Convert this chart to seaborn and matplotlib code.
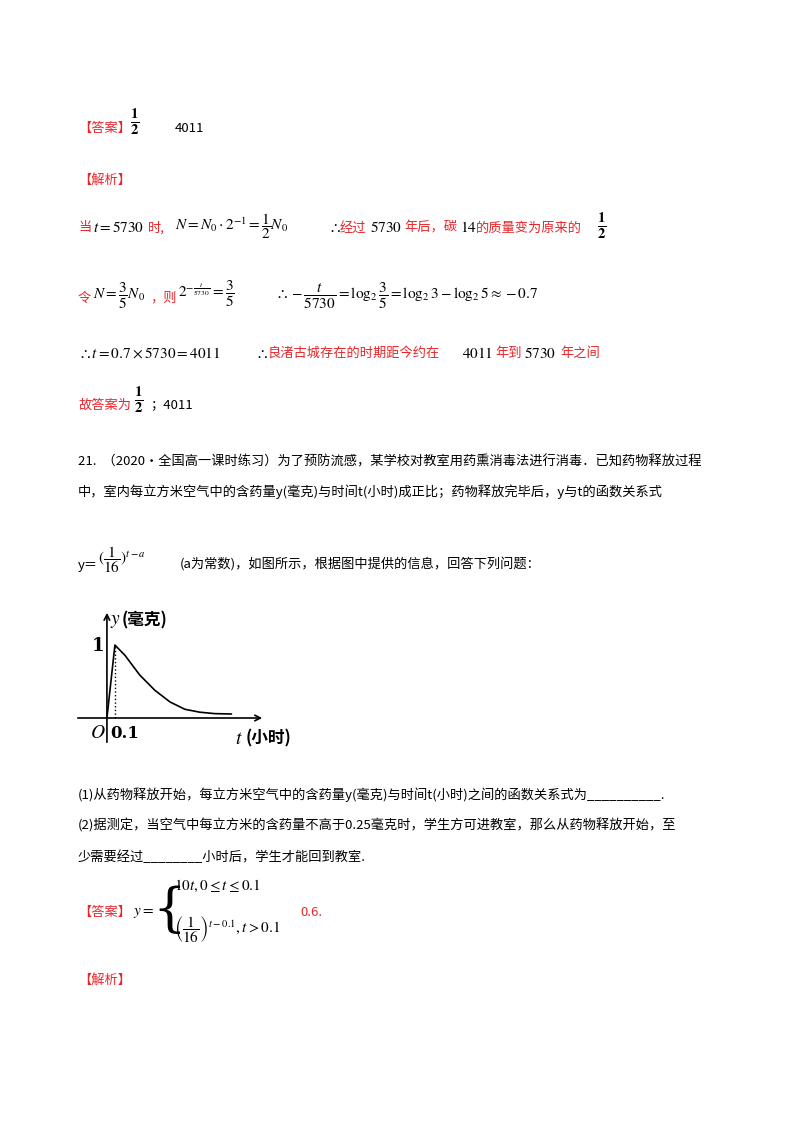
import matplotlib
matplotlib.use("Agg")
import matplotlib.pyplot as plt
import seaborn as sns
import pandas as pd

sns.set_style("white")
plt.rcParams['font.family'] = ['Noto Sans CJK SC', 'DejaVu Sans']
plt.rcParams['mathtext.fontset'] = 'stix'

# curve data (t in hours, y in mg)
t_vals = [0.0, 0.1, 0.225, 0.41, 0.6, 0.79, 0.975, 1.16, 1.35, 1.56]
y_vals = [0.0, 1.0, 0.86, 0.59, 0.38, 0.22, 0.12, 0.08, 0.06, 0.055]
df = pd.DataFrame({"t": t_vals, "y": y_vals})

W, H = 800, 1132
fig = plt.figure(figsize=(8, 11.32), dpi=100)
RED = '#e8262a'
FS = 9.5

def T(x, y, s, color='black', size=FS, **kw):
    fig.text(x / W, 1 - y / H, s, color=color, fontsize=size, va='center', ha='left', **kw)

T(78, 128, "【答案】", RED)
T(130, 122, r"$\frac{\mathbf{1}}{\mathbf{2}}$", size=15)
T(175, 128, "4011")
T(78, 180, "【解析】", RED)

T(78, 228, "当", RED); T(93, 228, r"$t=5730$", size=11); T(148, 228, "时,", RED)
T(175, 226, r"$N=N_0\cdot 2^{-1}=\dfrac{1}{2}N_0$", size=11)
T(328, 228, r"$\therefore$", size=11); T(340, 228, "经过", RED); T(370, 228, r"$5730$", size=11)
T(404, 228, "年后，碳", RED); T(460, 228, r"$14$", size=11); T(476, 228, "的质量变为原来的", RED)
T(597, 226, r"$\frac{\mathbf{1}}{\mathbf{2}}$", size=15)

T(78, 298, "令", RED); T(93, 296, r"$N=\dfrac{3}{5}N_0$", size=11); T(150, 298, "，则", RED)
T(178, 294, r"$2^{-\frac{t}{5730}}=\dfrac{3}{5}$", size=11)
T(275, 296, r"$\therefore -\dfrac{t}{5730}=\log_2\dfrac{3}{5}=\log_2 3-\log_2 5\approx -0.7$", size=11)

T(78, 353, r"$\therefore t=0.7\times 5730=4011$", size=11)
T(255, 353, r"$\therefore$", size=11); T(267, 353, "良渚古城存在的时期距今约在", RED)
T(462, 353, r"$4011$", size=11); T(495, 353, "年到", RED); T(524, 353, r"$5730$", size=11)
T(560, 353, "年之间", RED)

T(78, 405, "故答案为", RED); T(134, 400, r"$\frac{\mathbf{1}}{\mathbf{2}}$", size=15)
T(150, 405, "；4011")

T(78, 462, "21.  （2020·全国高一课时练习）为了预防流感，某学校对教室用药熏消毒法进行消毒．已知药物释放过程")
T(78, 492, "中，室内每立方米空气中的含药量y(毫克)与时间t(小时)成正比；药物释放完毕后，y与t的函数关系式")
T(78, 565, "y＝")
T(98, 560, r"$(\dfrac{1}{16})^{t-a}$", size=11)
T(180, 565, "(a为常数)，如图所示，根据图中提供的信息，回答下列问题：")

# chart: px 75..265 x, 610..745 y
ax = fig.add_axes([75 / W, 1 - 745 / H, 190 / W, 135 / H])
sns.lineplot(data=df, x="t", y="y", ax=ax, color='black', lw=1.2)
ax.set_xlim(-0.4, 1.98)
ax.set_ylim(-0.37, 1.48)
ax.axis('off')
ax.annotate('', xy=(1.98, 0), xytext=(-0.4, 0),
            arrowprops=dict(arrowstyle='->', lw=1.2, color='black'))
ax.annotate('', xy=(0, 1.48), xytext=(0, -0.37),
            arrowprops=dict(arrowstyle='->', lw=1.2, color='black'))
ax.plot([0.1, 0.1], [0, 1], ls=':', color='black', lw=1)
T(110, 620, r"$\mathbf{\it{y}}$", size=14); T(122, 620, "(毫克)", size=12, weight='bold')
T(92, 646, "1", size=13, weight='bold', family='DejaVu Serif')
T(90, 733, r"$\mathbf{\it{O}}$", size=14)
T(110, 733, "0.1", size=12, weight='bold', family='DejaVu Serif')
T(235, 738, r"$\mathbf{\it{t}}$", size=14); T(246, 738, "(小时)", size=12, weight='bold')

T(78, 795, "(1)从药物释放开始，每立方米空气中的含药量y(毫克)与时间t(小时)之间的函数关系式为__________.")
T(78, 826, "(2)据测定，当空气中每立方米的含药量不高于0.25毫克时，学生方可进教室，那么从药物释放开始，至")
T(78, 857, "少需要经过________小时后，学生才能回到教室.")

T(78, 912, "【答案】", RED)
T(133, 912, r"$y=$", size=11)
T(152, 910, "{", size=38, family='DejaVu Serif', weight='light')
T(174, 885, r"$10t,0\leq t\leq 0.1$", size=11)
T(174, 930, r"$\left(\dfrac{1}{16}\right)^{t-0.1},t>0.1$", size=11)
T(300, 912, "0.6.", RED)
T(78, 980, "【解析】", RED)

fig.savefig("out.png", dpi=100, facecolor='white')
